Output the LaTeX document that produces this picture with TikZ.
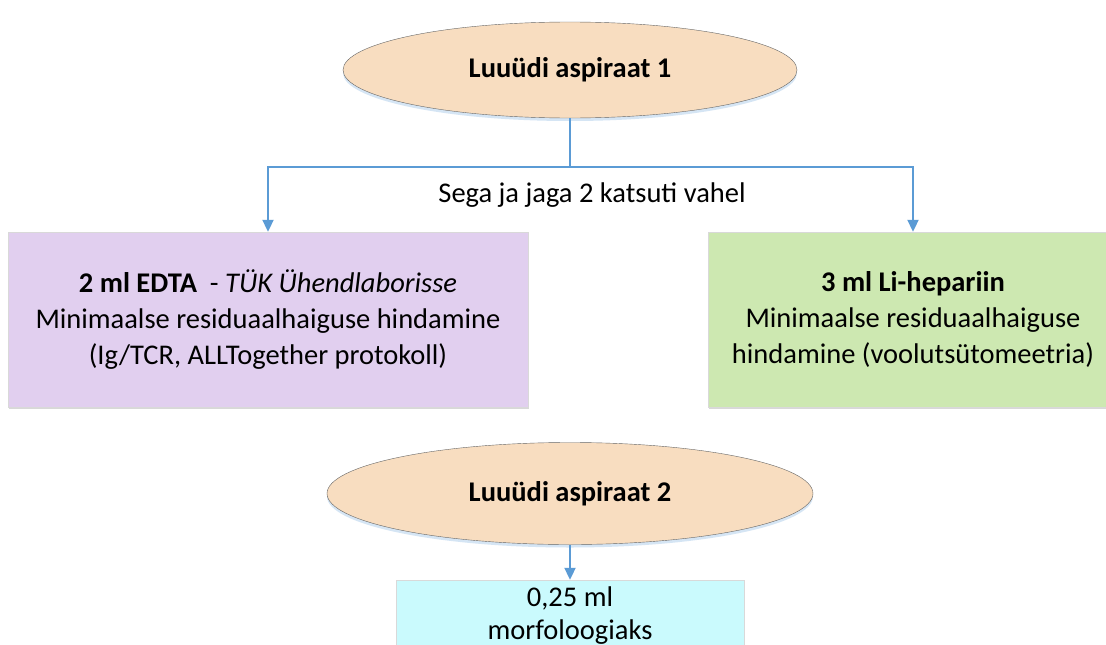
\documentclass[tikz,border=0pt]{standalone}
\usepackage{fontspec}
\setmainfont{Carlito}
\usetikzlibrary{shapes.geometric,shadows,arrows.meta}
\definecolor{peach}{HTML}{F8DDC0}
\definecolor{lavender}{HTML}{E1CFEF}
\definecolor{leafgreen}{HTML}{CDE8B1}
\definecolor{paleaqua}{HTML}{CAFAFD}
\definecolor{linkblue}{HTML}{5B9BD5}
\begin{document}
\begin{tikzpicture}[x=1pt,y=-1pt,
    every node/.style={font=\fontsize{28.5}{36}\selectfont},
    aspirate/.style={ellipse,draw=gray!80!black,fill=peach,
      font=\fontsize{28.5}{36}\selectfont\bfseries,
      drop shadow={shadow xshift=0pt,shadow yshift=-3pt,fill=linkblue,opacity=0.25}},
    tube/.style={rectangle,draw=gray!30,align=center,
      drop shadow={shadow xshift=1pt,shadow yshift=-2pt,fill=gray,opacity=0.3}},
    link/.style={draw=linkblue,line width=2pt,-{Triangle[length=12pt,width=11pt]}}]
  \useasboundingbox (0,0) rectangle (1106,645);
  \clip (0,0) rectangle (1106,645);
  \fill[white] (0,0) rectangle (1106,645);

  \node[aspirate,minimum width=454pt,minimum height=96pt] (asp1) at (570,70) {Luuüdi aspiraat 1};
  \node[tube,fill=lavender,minimum width=520pt,minimum height=175pt] (edta) at (268,319.5)
    {\textbf{2 ml EDTA} \ - \textit{TÜK Ühendlaborisse}\\Minimaalse residuaalhaiguse hindamine\\(Ig/TCR, ALLTogether protokoll)};
  \node[tube,fill=leafgreen,minimum width=410pt,minimum height=175pt] (hep) at (913,319.5)
    {\textbf{3 ml Li-hepariin}\\Minimaalse residuaalhaiguse\\hindamine (voolutsütomeetria)};
  \node (splitlabel) at (592,195) {Sega ja jaga 2 katsuti vahel};

  \node[aspirate,minimum width=486pt,minimum height=102pt] (asp2) at (570,493.5) {Luuüdi aspiraat 2};
  \node[tube,fill=paleaqua,minimum width=348pt,minimum height=71pt,
    font=\fontsize{28.5}{33}\selectfont] (morph) at (570,615.5)
    {0,25 ml\\morfoloogiaks};

  \coordinate (split) at (570,167);
  \begin{scope}[link]
    \draw (asp1.south) -- (split) -| (edta.north);
    \draw (split) -| (hep.north);
    \draw (asp2.south) -- (morph.north);
  \end{scope}
\end{tikzpicture}
\end{document}
